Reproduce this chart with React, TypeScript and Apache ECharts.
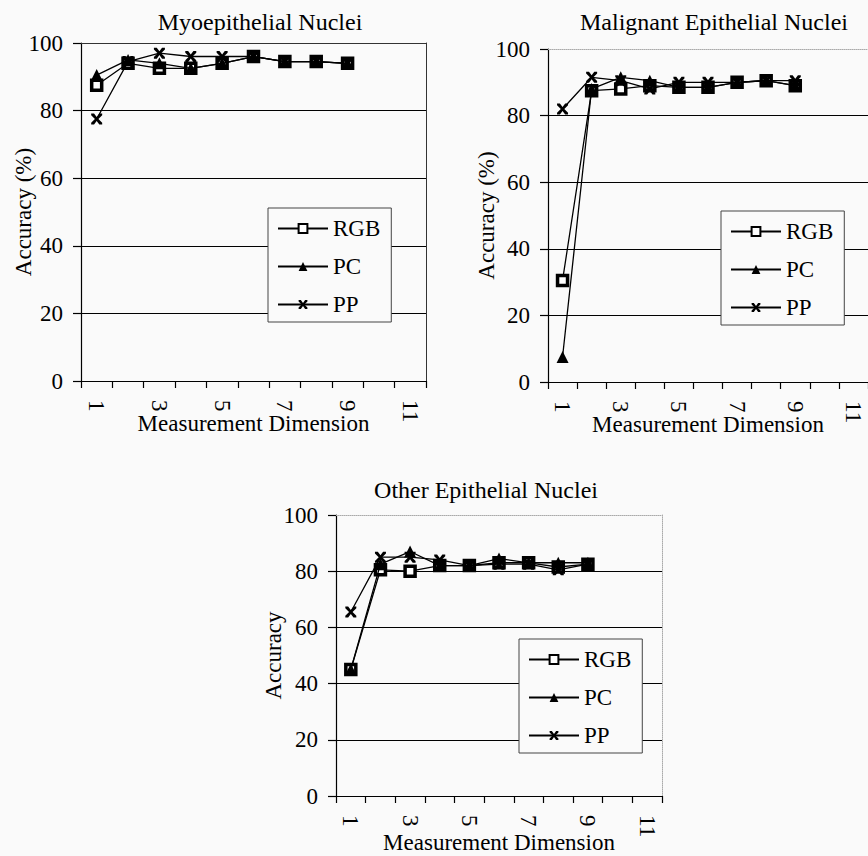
import React, { useEffect, useRef } from "react";
import * as echarts from "echarts";

const dims = ["1", "2", "3", "4", "5", "6", "7", "8", "9", "10", "11"];
const seriesNames = ["RGB", "PC", "PP"];

const myoRGB = [87.5, 94, 92.5, 92.5, 94, 96, 94.5, 94.5, 94];
const myoPC = [90.5, 95, 94, 92.5, 94, 96, 94.5, 94.5, 94];
const myoPP = [77.5, 94.5, 97, 96, 96, 96, 94.5, 94.5, 94];

const malRGB = [30.5, 87.5, 88, 89, 88.5, 88.5, 90, 90.5, 89];
const malPC = [7.5, 88, 91.5, 90.5, 88.5, 88.5, 90, 90.5, 89];
const malPP = [82, 91.5, 90.5, 88, 90, 90, 90, 90.5, 90.5];

const othRGB = [45, 80.5, 80, 82, 82, 83, 83, 81.5, 82.5];
const othPC = [45, 82.5, 87, 82, 82, 84.5, 83, 83, 83];
const othPP = [65.5, 85, 85, 84, 82, 82.5, 82.5, 80.5, 82.5];

const titles = ["Myoepithelial Nuclei", "Malignant Epithelial Nuclei", "Other Epithelial Nuclei"];
const yNames = ["Accuracy (%)", "Accuracy (%)", "Accuracy"];
const xName = "Measurement Dimension";
const yTicks = [0, 100, 20];

const FONT = "'Liberation Serif', 'Times New Roman', serif";
const BG = "#fafafa";

const X_PATH =
  "path://M0,0 L2.6,0 L5,3.2 L7.4,0 L10,0 L10,1.6 L6.6,5 L10,8.4 L10,10 L7.4,10 L5,6.8 L2.6,10 L0,10 L0,8.4 L3.4,5 L0,1.6 Z";

const layouts = [
  {
    grid: { left: 81, top: 43, width: 345, height: 338 },
    title: { x: 260, y: 10 },
    legend: { left: 268, top: 208 },
    yNameGap: 46,
    xNameGap: 31,
    frame: { color: "#333", type: "solid" as const },
  },
  {
    grid: { left: 548, top: 49, width: 328, height: 333 },
    title: { x: 714, y: 10 },
    legend: { left: 721, top: 211 },
    yNameGap: 50,
    xNameGap: 31,
    frame: { color: "#aaa", type: "dotted" as const },
  },
  {
    grid: { left: 336, top: 515, width: 326, height: 281 },
    title: { x: 486, y: 478 },
    legend: { left: 519, top: 639 },
    yNameGap: 51,
    xNameGap: 35,
    frame: { color: "#aaa", type: "dotted" as const },
  },
];

const dataSets = [
  [myoRGB, myoPC, myoPP],
  [malRGB, malPC, malPP],
  [othRGB, othPC, othPP],
];

function buildOption() {
  const grid: any[] = [];
  const xAxis: any[] = [];
  const yAxis: any[] = [];
  const series: any[] = [];
  const title: any[] = [];
  const legend: any[] = [];

  layouts.forEach((L, i) => {
    grid.push({ ...L.grid, containLabel: false, show: false });
    title.push({
      text: titles[i],
      left: L.title.x,
      top: L.title.y,
      textAlign: "center",
      padding: 0,
      textStyle: { fontFamily: FONT, fontSize: 24, fontWeight: "normal", color: "#000" },
    });
    xAxis.push({
      type: "category",
      gridIndex: i,
      data: dims,
      boundaryGap: true,
      position: "bottom",
      name: xName,
      nameLocation: "middle",
      nameGap: L.xNameGap,
      nameMoveOverlap: false,
      nameTextStyle: { fontFamily: FONT, fontSize: 23, color: "#000" },
      axisLine: { show: true, lineStyle: { color: "#000", width: 1.2 } },
      axisTick: { show: true, interval: 0, length: 7, lineStyle: { color: "#000", width: 1.2 } },
      axisLabel: {
        interval: 1,
        rotate: -90,
        margin: 19,
        fontFamily: FONT,
        fontSize: 23,
        color: "#000",
      },
      splitLine: { show: false },
    });
    xAxis.push({
      type: "category",
      gridIndex: i,
      data: dims,
      position: "top",
      axisLine: { show: true, onZero: false, lineStyle: { color: L.frame.color, type: L.frame.type, width: 1 } },
      axisTick: { show: false },
      axisLabel: { show: false },
      splitLine: { show: false },
    });
    yAxis.push({
      type: "value",
      gridIndex: i,
      min: yTicks[0],
      max: yTicks[1],
      interval: yTicks[2],
      name: yNames[i],
      nameLocation: "middle",
      nameGap: L.yNameGap,
      nameMoveOverlap: false,
      nameTextStyle: { fontFamily: FONT, fontSize: 23, color: "#000" },
      axisLine: { show: true, lineStyle: { color: "#000", width: 1.2 } },
      axisTick: { show: true, length: 8, lineStyle: { color: "#000", width: 1.2 } },
      axisLabel: { margin: 18, fontFamily: FONT, fontSize: 23, color: "#000" },
      splitLine: {
        show: true,
        lineStyle: {
          color: ["transparent", "#000", "#000", "#000", "#000", "transparent"],
          width: 1.2,
        },
      },
    });
    yAxis.push({
      type: "value",
      gridIndex: i,
      min: yTicks[0],
      max: yTicks[1],
      interval: yTicks[2],
      position: "right",
      axisLine: { show: true, onZero: false, lineStyle: { color: L.frame.color, type: L.frame.type, width: 1 } },
      axisTick: { show: false },
      axisLabel: { show: false },
      splitLine: { show: false },
    });

    const [rgb, pc, pp] = dataSets[i];
    const common = {
      type: "line",
      xAxisIndex: i * 2,
      yAxisIndex: i * 2,
      lineStyle: { color: "#000", width: 1.3 },
      showAllSymbol: true,
      silent: true,
    };
    series.push({
      ...common,
      name: seriesNames[0],
      data: rgb,
      symbol: "rect",
      symbolSize: 10,
      itemStyle: { color: "#fff", borderColor: "#000", borderWidth: 3.5 },
      z: 3,
    });
    series.push({
      ...common,
      name: seriesNames[1],
      data: pc,
      symbol: "triangle",
      symbolSize: 12,
      itemStyle: { color: "#000", borderColor: "#000", borderWidth: 0 },
      z: 4,
    });
    series.push({
      ...common,
      name: seriesNames[2],
      data: pp,
      symbol: X_PATH,
      symbolSize: 11,
      itemStyle: { color: "#000", borderColor: "#000", borderWidth: 0 },
      z: 5,
    });

    legend.push({
      data: seriesNames,
      orient: "vertical",
      left: L.legend.left,
      top: L.legend.top,
      itemWidth: 50,
      itemHeight: 11,
      itemGap: 15,
      padding: [9, 11, 6, 9],
      borderColor: "#444",
      borderWidth: 1,
      backgroundColor: BG,
      selectedMode: false,
      textStyle: { fontFamily: FONT, fontSize: 23, color: "#000" },
    });
  });

  return {
    animation: false,
    backgroundColor: BG,
    textStyle: { fontFamily: FONT },
    title,
    grid,
    xAxis,
    yAxis,
    series,
    legend,
  };
}

export default function App() {
  const ref = useRef<HTMLDivElement>(null);
  useEffect(() => {
    document.body.style.margin = "0";
    document.body.style.background = BG;
    const chart = echarts.init(ref.current!, undefined, { renderer: "svg" });
    chart.setOption(buildOption() as any);
    return () => chart.dispose();
  }, []);
  return <div ref={ref} style={{ width: 868, height: 856 }} />;
}
